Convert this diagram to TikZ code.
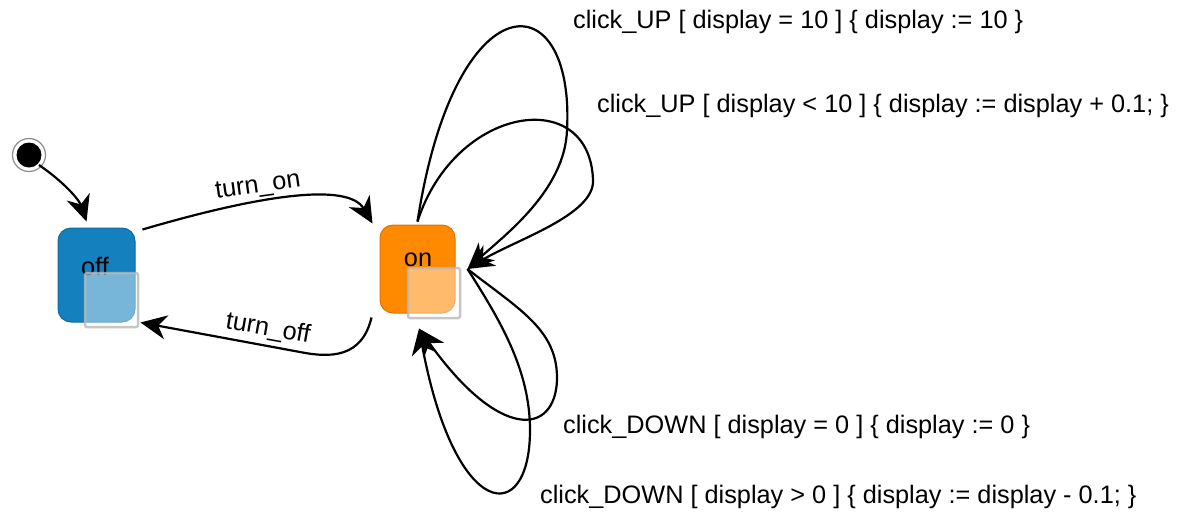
\documentclass[tikz,border=0pt]{standalone}
\usepackage{fontspec}
\setmainfont{Liberation Sans}
\usetikzlibrary{arrows.meta,calc}
\definecolor{offblue}{HTML}{1580BE}
\definecolor{offborder}{HTML}{0F6A9E}
\definecolor{onorange}{HTML}{FF8A00}
\definecolor{onborder}{HTML}{D97400}
\definecolor{ovborder}{HTML}{B8B8B8}
\begin{document}
\begin{tikzpicture}[x=1pt,y=-1pt,
  lbl/.style={font=\fontsize{25.3}{30}\selectfont, inner sep=0pt, text=black},
  statebox/.style={rounded corners=13pt, line width=1pt, inner sep=0pt},
  overlay/.style={draw=ovborder, draw opacity=0.8, fill=white, fill opacity=0.42, line width=2.5pt, rounded corners=2pt, inner sep=0pt},
  tr/.style={draw=black, line width=2.2pt, -{Stealth[length=26pt 0 0,width=24pt 0 0,inset=8pt 0 0]}}
]
\useasboundingbox (0,0) rectangle (1177,515);

% initial state
\node[circle, draw=black!45, line width=1.2pt, minimum size=33pt, inner sep=0pt] (initring) at (29,155) {};
\node[circle, fill=black, minimum size=25pt, inner sep=0pt] (init) at (29,155) {};

% states
\node[statebox, draw=offborder, fill=offblue, minimum width=77pt, minimum height=94pt] (off) at (96.5,275) {};
\node[lbl] (offtxt) at (95,266) {off};
\node[overlay, minimum width=53pt, minimum height=54pt] (offov) at (111.5,300) {};

\node[statebox, draw=onborder, fill=onorange, minimum width=75pt, minimum height=88pt] (on) at (417.5,269) {};
\node[lbl] (ontxt) at (418,260) {on};
\node[overlay, minimum width=52pt, minimum height=50pt] (onov) at (434,293) {};

% anchor points
\coordinate (initout) at ([shift={(10pt,-10pt)}]init.center);
\coordinate (offin) at ([shift={(-10pt,6pt)}]off.north);
\coordinate (offout) at ([shift={(7pt,-2pt)}]off.north east);
\coordinate (offback) at ([shift={(5pt,0pt)}]off.south east);
\coordinate (onin) at ([shift={(-7pt,1pt)}]on.north west);
\coordinate (onoutb) at ([shift={(-8pt,-4pt)}]on.south west);
\coordinate (ontop) at ([yshift=3pt]on.north);
\coordinate (onright) at ([xshift=12pt]on.east);
\coordinate (onbot) at ([shift={(1.5pt,-15pt)}]on.south);

% initial transition
\draw[tr] (initout) .. controls (68,185) and (80,202) .. (offin);

% turn_on
\draw[tr] (offout) .. controls (260,195) and (348,182) .. (onin);
\node[lbl, rotate=8] (lton) at (258,187) {turn\_on};

% turn_off
\draw[tr] (onoutb) .. controls (362,358) and (330,358) .. (300,352) -- (offback);
\node[lbl, rotate=-10] (ltoff) at (268,329) {turn\_off};

% click_UP loops
\draw[tr] (ontop) .. controls (455,-22) and (575,-20) .. (567,130)
          .. controls (565,190) and (505,235) .. (onright);
\draw[tr] (ontop) .. controls (455,105) and (590,85) .. (593,180)
          .. controls (595,215) and (515,240) .. (onright);

% click_DOWN loops
\draw[tr] (onright) .. controls (520,310) and (558,330) .. (557,380)
          .. controls (555,435) and (500,442) .. (onbot);
\draw[tr] (onright) .. controls (500,320) and (530,370) .. (530,430)
          .. controls (530,528) and (455,522) .. (onbot);

% labels
\node[lbl, anchor=west] (l1) at (573,22) {click\_UP [ display = 10 ] \{ display := 10 \}};
\node[lbl, anchor=west] (l2) at (597,106) {click\_UP [ display < 10 ] \{ display := display + 0.1; \}};
\node[lbl, anchor=west] (l3) at (563,427) {click\_DOWN [ display = 0 ] \{ display := 0 \}};
\node[lbl, anchor=west] (l4) at (540,497) {click\_DOWN [ display > 0 ] \{ display := display - 0.1; \}};
\end{tikzpicture}
\end{document}
